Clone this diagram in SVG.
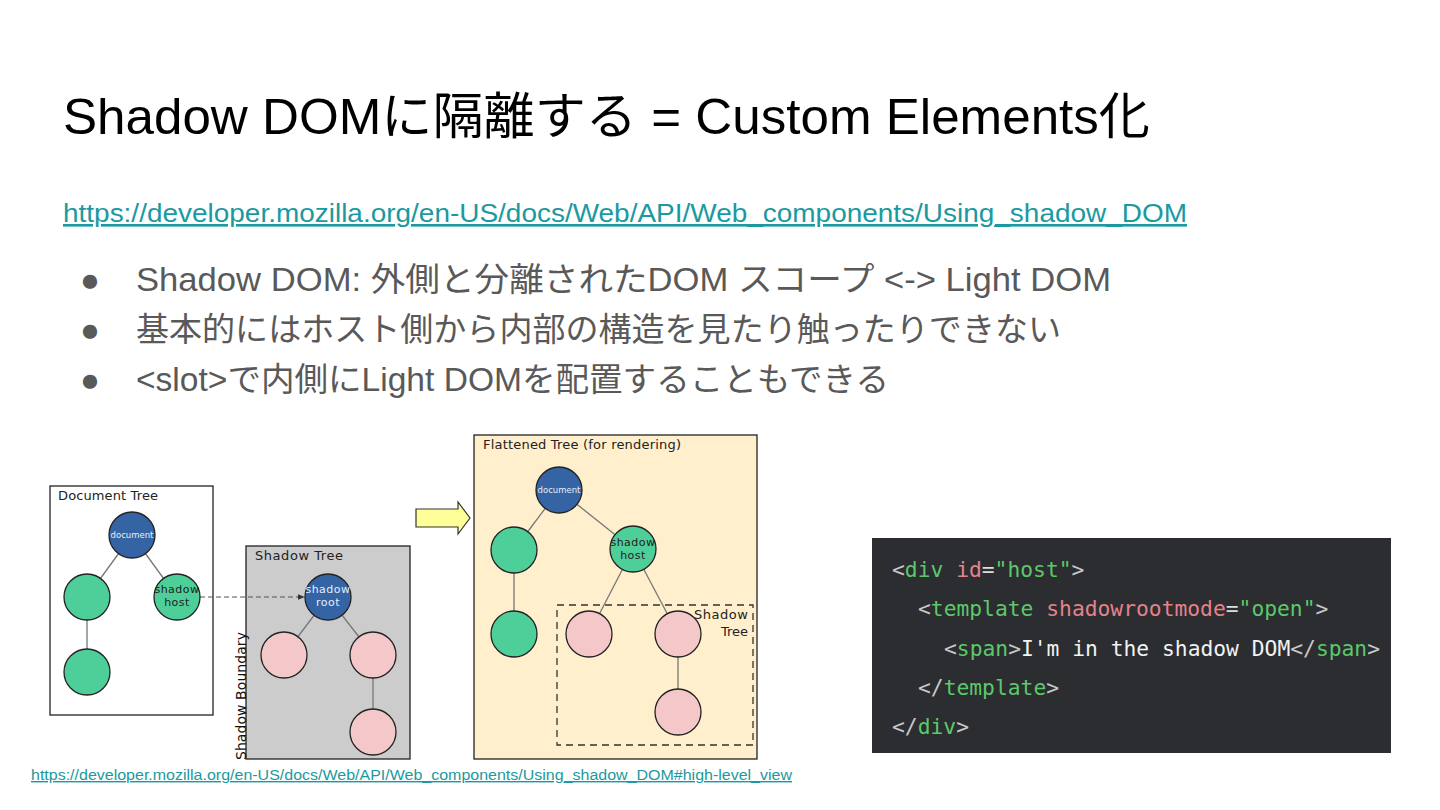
<svg xmlns="http://www.w3.org/2000/svg" width="1440" height="810" viewBox="0 0 1440 810">
<defs>
<style>
.t{font-family:"Liberation Sans","Noto Sans CJK JP",sans-serif}
.d{font-family:"DejaVu Sans",sans-serif}
.lbl{font-family:"DejaVu Sans",sans-serif;font-size:13px;fill:#222}
.edge{stroke:#777;stroke-width:1.3;fill:none}
.blue{fill:#3464a3;stroke:#222;stroke-width:1.3}
.green{fill:#4ecf9a;stroke:#222;stroke-width:1.3}
.pink{fill:#f4c8c9;stroke:#222;stroke-width:1.3}
.box{stroke:#222;stroke-width:1.3}
.code{font-family:"DejaVu Sans Mono",monospace;font-size:21.3px}
.g{fill:#5cc86b}.p{fill:#e4828c}.w{fill:#dcdcdc}.br{fill:#c8c8c8}
</style>
<marker id="ah" viewBox="0 0 10 10" refX="9" refY="5" markerWidth="7" markerHeight="7" orient="auto"><path d="M0,1 L10,5 L0,9 z" fill="#333"/></marker>
</defs>
<rect width="1440" height="810" fill="#fff"/>
<text class="t" x="63" y="134" font-size="50" fill="#000" textLength="1087" lengthAdjust="spacingAndGlyphs">Shadow DOMに隔離する = Custom Elements化</text>
<text class="t" x="63" y="222" font-size="26" fill="#1a9aa0" text-decoration="underline" textLength="1124" lengthAdjust="spacingAndGlyphs">https://developer.mozilla.org/en-US/docs/Web/API/Web_components/Using_shadow_DOM</text>
<g class="t" font-size="33" fill="#595959">
<text x="80" y="291">●</text><text x="136" y="291" textLength="975" lengthAdjust="spacingAndGlyphs">Shadow DOM: 外側と分離されたDOM スコープ &lt;-&gt; Light DOM</text>
<text x="80" y="341">●</text><text x="136" y="341" textLength="925" lengthAdjust="spacingAndGlyphs">基本的にはホスト側から内部の構造を見たり触ったりできない</text>
<text x="80" y="391">●</text><text x="136" y="391" textLength="753" lengthAdjust="spacingAndGlyphs">&lt;slot&gt;で内側にLight DOMを配置することもできる</text>
</g>
<g id="document-tree">
<rect class="box" x="50" y="486" width="163" height="229" fill="#fff"/>
<text class="lbl" x="58" y="500" textLength="100">Document Tree</text>
</g>
<g id="shadow-tree">
<rect class="box" x="246" y="546" width="164" height="213" fill="#cccccc"/>
<text class="lbl" x="255" y="560" textLength="88">Shadow Tree</text>
</g>
<g id="shadow-boundary">
<text class="d" font-size="14" fill="#111" transform="translate(246,760) rotate(-90)" textLength="128">Shadow Boundary</text>
</g>
<g id="flattened-tree">
<rect class="box" x="474" y="435" width="283" height="324" fill="#ffefcd"/>
<text class="lbl" x="483" y="449" textLength="198">Flattened Tree (for rendering)</text>
<rect x="557" y="605" width="196" height="140" fill="none" stroke="#333" stroke-width="1.3" stroke-dasharray="7,5"/>
<text class="lbl" x="748" y="619" text-anchor="end" textLength="54">Shadow</text>
<text class="lbl" x="748" y="636" text-anchor="end">Tree</text>
</g>
<g id="connectors">
<line class="edge" x1="132" y1="535" x2="87" y2="597"/>
<line class="edge" x1="132" y1="535" x2="177" y2="597"/>
<line class="edge" x1="87" y1="597" x2="87" y2="672"/>
<line class="edge" x1="328" y1="597" x2="284" y2="655"/>
<line class="edge" x1="328" y1="597" x2="373" y2="655"/>
<line class="edge" x1="373" y1="655" x2="373" y2="732"/>
<line x1="200" y1="597" x2="304" y2="597" stroke="#555" stroke-width="1" stroke-dasharray="5,3" marker-end="url(#ah)"/>
<line class="edge" x1="559" y1="490" x2="514" y2="550"/>
<line class="edge" x1="559" y1="490" x2="633" y2="549"/>
<line class="edge" x1="514" y1="550" x2="514" y2="634"/>
<line class="edge" x1="633" y1="549" x2="589" y2="634"/>
<line class="edge" x1="633" y1="549" x2="678" y2="634"/>
<line class="edge" x1="678" y1="634" x2="678" y2="712"/>
</g>
<g id="yellow-arrow"><path d="M416,509 L458,509 L458,502 L470,518 L458,534 L458,527 L416,527 Z" fill="#ffff99" stroke="#333" stroke-width="1.2"/></g>
<g id="n-doc1"><circle class="blue" cx="132" cy="535" r="23"/><text class="d" x="132" y="538" font-size="8.5" fill="#e8eefa" text-anchor="middle">document</text></g>
<g id="n-g1"><circle class="green" cx="87" cy="597" r="23"/></g>
<g id="n-host1"><circle class="green" cx="177" cy="597" r="23"/><text class="d" x="177" y="593" font-size="11" fill="#222" text-anchor="middle" letter-spacing="0.5">shadow</text><text class="d" x="177" y="606" font-size="11" fill="#222" text-anchor="middle" letter-spacing="0.5">host</text></g>
<g id="n-g2"><circle class="green" cx="87" cy="672" r="23"/></g>
<g id="n-root"><circle class="blue" cx="328" cy="597" r="23"/><text class="d" x="328" y="593" font-size="11" fill="#e8eefa" text-anchor="middle" letter-spacing="0.5">shadow</text><text class="d" x="328" y="606" font-size="11" fill="#e8eefa" text-anchor="middle" letter-spacing="0.5">root</text></g>
<g id="n-p1"><circle class="pink" cx="284" cy="655" r="23"/></g>
<g id="n-p2"><circle class="pink" cx="373" cy="655" r="23"/></g>
<g id="n-p3"><circle class="pink" cx="373" cy="732" r="23"/></g>
<g id="n-doc2"><circle class="blue" cx="559" cy="490" r="23"/><text class="d" x="559" y="493" font-size="8.5" fill="#e8eefa" text-anchor="middle">document</text></g>
<g id="n-g3"><circle class="green" cx="514" cy="550" r="23"/></g>
<g id="n-host2"><circle class="green" cx="633" cy="549" r="23"/><text class="d" x="633" y="546" font-size="11" fill="#222" text-anchor="middle" letter-spacing="0.5">shadow</text><text class="d" x="633" y="559" font-size="11" fill="#222" text-anchor="middle" letter-spacing="0.5">host</text></g>
<g id="n-g4"><circle class="green" cx="514" cy="634" r="23"/></g>
<g id="n-p4"><circle class="pink" cx="589" cy="634" r="23"/></g>
<g id="n-p5"><circle class="pink" cx="678" cy="634" r="23"/></g>
<g id="n-p6"><circle class="pink" cx="678" cy="712" r="23"/></g>
<g id="code">
<rect x="872" y="538" width="519" height="215" fill="#2b2d30"/>
<text class="code" x="892" y="577"><tspan class="br">&lt;</tspan><tspan class="g">div</tspan><tspan class="w"> </tspan><tspan class="p">id</tspan><tspan class="w">=</tspan><tspan class="g">"host"</tspan><tspan class="br">&gt;</tspan></text>
<text class="code" x="918" y="616"><tspan class="br">&lt;</tspan><tspan class="g">template</tspan><tspan class="w"> </tspan><tspan class="p">shadowrootmode</tspan><tspan class="w">=</tspan><tspan class="g">"open"</tspan><tspan class="br">&gt;</tspan></text>
<text class="code" x="944" y="656"><tspan class="br">&lt;</tspan><tspan class="g">span</tspan><tspan class="br">&gt;</tspan><tspan fill="#f2f2f2">I'm in the shadow DOM</tspan><tspan class="br">&lt;/</tspan><tspan class="g">span</tspan><tspan class="br">&gt;</tspan></text>
<text class="code" x="918" y="695"><tspan class="br">&lt;/</tspan><tspan class="g">template</tspan><tspan class="br">&gt;</tspan></text>
<text class="code" x="892" y="734"><tspan class="br">&lt;/</tspan><tspan class="g">div</tspan><tspan class="br">&gt;</tspan></text>
</g>
<text class="t" x="31" y="780" font-size="14" fill="#1a9aa0" text-decoration="underline" textLength="761" lengthAdjust="spacingAndGlyphs">https://developer.mozilla.org/en-US/docs/Web/API/Web_components/Using_shadow_DOM#high-level_view</text>
</svg>
